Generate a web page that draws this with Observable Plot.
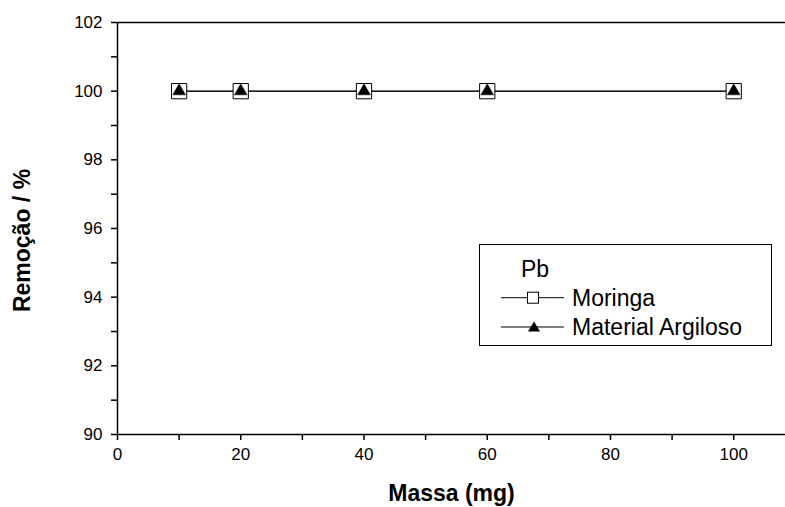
<!DOCTYPE html>
<html>
<head>
<meta charset="utf-8">
<script src="https://cdn.jsdelivr.net/npm/d3@7"></script>
<script src="https://cdn.jsdelivr.net/npm/@observablehq/plot@0.6"></script>
<style>
  html, body { margin: 0; padding: 0; background: #fff; }
  #wrap { position: relative; width: 785px; height: 507px; font-family: "Liberation Sans", Arial, sans-serif; }
  #legend { position: absolute; left: 479px; top: 244px; width: 293px; height: 102px; border: 1.3px solid #000; box-sizing: border-box; background: #fff; font-size: 23px; color: #000; }
  #legend .lbl { position: absolute; line-height: 1; white-space: nowrap; transform: translateY(-50%); }
  #legend svg { position: absolute; left: 0; top: 0; }
</style>
</head>
<body>
<div id="wrap"></div>
<script>
const massa = [10, 20, 40, 60, 100];
const moringa = [100, 100, 100, 100, 100];
const argiloso = [100, 100, 100, 100, 100];
const xMajor = [0, 20, 40, 60, 80, 100];
const xMinor = [10, 30, 50, 70, 90];
const yMajor = [90, 92, 94, 96, 98, 100, 102];
const yMinor = [91, 93, 95, 97, 99, 101];
const seriesNames = ["Moringa", "Material Argiloso"];
const legendTitle = "Pb";

const dMor = massa.map((x, i) => ({x, y: moringa[i]}));
const dArg = massa.map((x, i) => ({x, y: argiloso[i]}));

const chart = Plot.plot({
  width: 785,
  height: 507,
  marginLeft: 117,
  marginRight: 0,
  marginTop: 22,
  marginBottom: 73,
  style: {fontFamily: "Liberation Sans, Arial, sans-serif", color: "#000", background: "#fff"},
  x: {domain: [0, 108.4]},
  y: {domain: [90, 102]},
  marks: [
    Plot.axisX({ticks: xMajor, tickSize: 6, tickPadding: 7, fontSize: 17, label: null, strokeWidth: 1.5}),
    Plot.axisX({ticks: xMinor, tickSize: 6, tickFormat: () => "", label: null, strokeWidth: 1.5}),
    Plot.axisY({ticks: yMajor, tickSize: 6, tickPadding: 9, fontSize: 17, label: null, strokeWidth: 1.5}),
    Plot.axisY({ticks: yMinor, tickSize: 6, tickFormat: () => "", label: null, strokeWidth: 1.5}),
    Plot.ruleY([90], {stroke: "#000", strokeWidth: 1.5}),
    Plot.ruleY([102], {stroke: "#000", strokeWidth: 1.5}),
    Plot.ruleX([0], {stroke: "#000", strokeWidth: 1.5}),
    Plot.line(dMor, {x: "x", y: "y", stroke: "#000", strokeWidth: 1}),
    Plot.line(dArg, {x: "x", y: "y", stroke: "#000", strokeWidth: 1}),
    Plot.dot(dMor, {x: "x", y: "y", symbol: "square", r: 8.6, fill: "#fff", stroke: "#000", strokeWidth: 1}),
    Plot.dot(dArg, {x: "x", y: "y", symbol: "triangle", r: 4.7, fill: "#000", stroke: "#000", strokeWidth: 0.5}),
    Plot.text(["Massa (mg)"], {frameAnchor: "bottom", dy: 59, fontSize: 23, fontWeight: "bold", lineAnchor: "middle"}),
    Plot.text(["Remoção / %"], {frameAnchor: "left", dx: -95, dy: 12, rotate: -90, fontSize: 23, fontWeight: "bold", textAnchor: "middle", lineAnchor: "middle"})
  ]
});
document.getElementById("wrap").appendChild(chart);

const legend = document.createElement("div");
legend.id = "legend";
const rowsY = [52.7, 82];
let svg = '<svg width="293" height="102">';
svg += '<line x1="21" y1="' + rowsY[0] + '" x2="84" y2="' + rowsY[0] + '" stroke="#000" stroke-width="1"/>';
svg += '<rect x="47.5" y="' + (rowsY[0] - 5.5) + '" width="11" height="11" fill="#fff" stroke="#000" stroke-width="1"/>';
svg += '<line x1="21" y1="' + rowsY[1] + '" x2="84" y2="' + rowsY[1] + '" stroke="#000" stroke-width="1"/>';
svg += '<path d="M54,' + (rowsY[1] - 5.5) + ' L60,' + (rowsY[1] + 4.5) + ' L48,' + (rowsY[1] + 4.5) + ' Z" fill="#000"/>';
svg += '</svg>';
legend.innerHTML = svg;
const t = document.createElement("span");
t.className = "lbl";
t.style.left = "41px";
t.style.top = "24px";
t.textContent = legendTitle;
legend.appendChild(t);
seriesNames.forEach((name, i) => {
  const s = document.createElement("span");
  s.className = "lbl";
  s.style.left = "92px";
  s.style.top = rowsY[i] + "px";
  s.textContent = name;
  legend.appendChild(s);
});
document.getElementById("wrap").appendChild(legend);
</script>
</body>
</html>
